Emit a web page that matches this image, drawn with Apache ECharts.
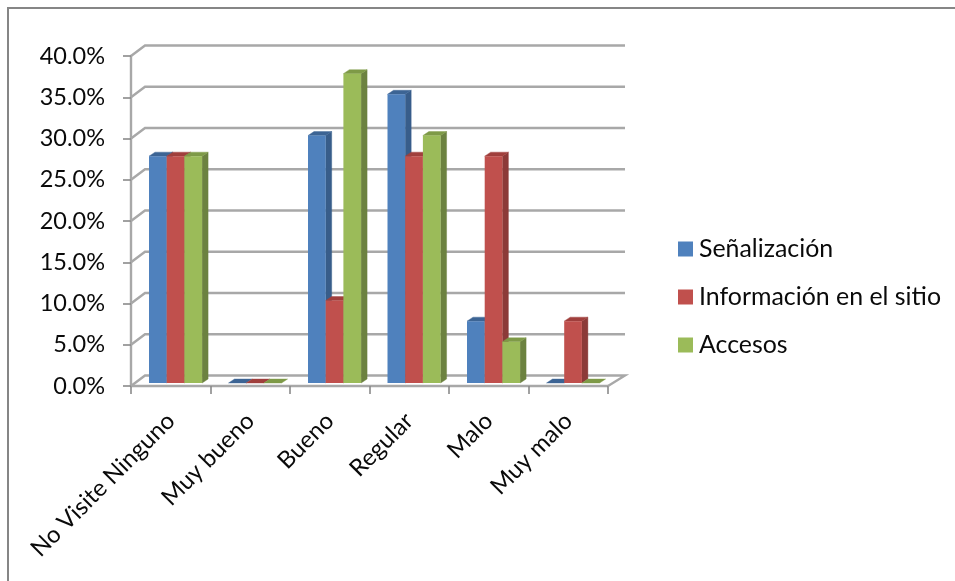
<!DOCTYPE html>
<html><head><meta charset="utf-8">
<style>html,body{margin:0;padding:0;background:#fff}#c{width:955px;height:581px}</style>
<script src="https://cdn.jsdelivr.net/npm/echarts@6/dist/echarts.min.js"></script>
</head><body><div id="c"></div>
<script>
const categories = ['No Visite Ninguno','Muy bueno','Bueno','Regular','Malo','Muy malo'];
const senalizacion = [27.5,0,30,35,7.5,0];
const informacion = [27.5,0,10,27.5,27.5,7.5];
const accesos = [27.5,0,37.5,30,5,0];
const seriesNames = ['Señalización','Información en el sitio','Accesos'];
const seriesValues = [senalizacion,informacion,accesos];
const wallTicks = [0,5,10,15,20,25,30,35,40];
const faces = [
  {front:'#4F81BD',side:'#385D8A',top:'#3C6494'},
  {front:'#C0504D',side:'#8C3A38',top:'#A03F3C'},
  {front:'#9BBB59',side:'#6C8240',top:'#7E9A47'}
];
const FONT='Lato, Carlito, sans-serif', GRID='#A8A8A8';
const BAR_W=17.7, BAR_DX=6, BAR_DY=-4, PLANE_Y=-3, BAND_LEFT=-21.75;
const WALL_DX_L=14, WALL_DX_R=17, WALL_DY=-10.5;

function wall(params, api){
  const v=api.value(0);
  const a=api.coord([0,v]), left=a[0]-api.size([1,0])[0]/2;
  const right=left+api.size([1,0])[0]*categories.length;
  const y=a[1];
  const st={stroke:GRID,lineWidth:2.4,fill:null};
  const pts=[[left,y],[left+WALL_DX_L,y+WALL_DY],[right+WALL_DX_R,y+WALL_DY]];
  if(v===0) pts.push([right,y]);
  return {type:'polyline',shape:{points:pts},style:st,silent:true};
}
function bar(s){
  return function(params, api){
    const i=api.value(0), v=api.value(1);
    const p=api.coord([i,v]), z=api.coord([i,0]);
    const x=p[0]+BAND_LEFT+s*BAR_W, y=p[1]+PLANE_Y, b=z[1]+PLANE_Y, r=x+BAR_W;
    const f=faces[s];
    const poly=(pts,c)=>({type:'polygon',shape:{points:pts},style:{fill:c,stroke:c,lineWidth:0.4}});
    const kids=[];
    if(v>0) kids.push(poly([[r,y],[r+BAR_DX,y+BAR_DY],[r+BAR_DX,b+BAR_DY],[r,b]],f.side));
    kids.push(poly([[x,y],[x+BAR_DX,y+BAR_DY],[r+BAR_DX,y+BAR_DY],[r,y]],f.top));
    if(v>0) kids.push({type:'rect',shape:{x:x,y:y,width:BAR_W,height:b-y},style:{fill:f.front}});
    return {type:'group',children:kids};
  };
}
const chart=echarts.init(document.getElementById('c'),null,{renderer:'canvas'});
chart.setOption({
  animation:false,
  color:faces.map(f=>f.front),
  graphic:[{type:'rect',silent:true,z:0,shape:{x:8,y:8,width:1000,height:1000},style:{fill:'none',stroke:'#868686',lineWidth:2}}],
  legend:{
    orient:'vertical',left:678,top:232,padding:0,itemWidth:15,itemHeight:15,itemGap:14,icon:'rect',
    data:seriesNames,
    textStyle:{fontFamily:FONT,fontSize:24.9,color:'#0a0a0a',padding:[4,0,0,1],lineHeight:30}
  },
  grid:{left:131,top:56,width:477,height:330,containLabel:false},
  xAxis:{type:'category',data:categories,
    axisLine:{lineStyle:{color:GRID,width:2.4}},
    axisTick:{show:true,alignWithLabel:false,length:8,lineStyle:{color:'#8a8a8a',width:1.6}},
    axisLabel:{rotate:45,interval:0,margin:31,fontFamily:FONT,fontSize:23.8,color:'#0a0a0a'},
    splitLine:{show:false}},
  yAxis:{type:'value',min:0,max:40,interval:5,
    axisLine:{show:true,lineStyle:{color:GRID,width:2.4}},
    axisTick:{show:true,length:8,lineStyle:{color:'#8a8a8a',width:1.6}},
    axisLabel:{margin:26,fontFamily:FONT,fontSize:23.5,color:'#0a0a0a',padding:[3,0,0,0],formatter:v=>v.toFixed(1)+'%'},
    splitLine:{show:false}},
  series:[
    {type:'custom',name:'wall',z:1,silent:true,clip:false,coordinateSystem:'cartesian2d',
     renderItem:wall,data:wallTicks.map(v=>[v]),encode:{y:0}},
    ...seriesNames.map((n,s)=>({type:'custom',name:n,z:3+s,clip:false,
      itemStyle:{color:faces[s].front},
      renderItem:bar(s),
      encode:{x:0,y:1},
      data:seriesValues[s].map((v,i)=>[i,v])}))
  ]
});
</script></body></html>
